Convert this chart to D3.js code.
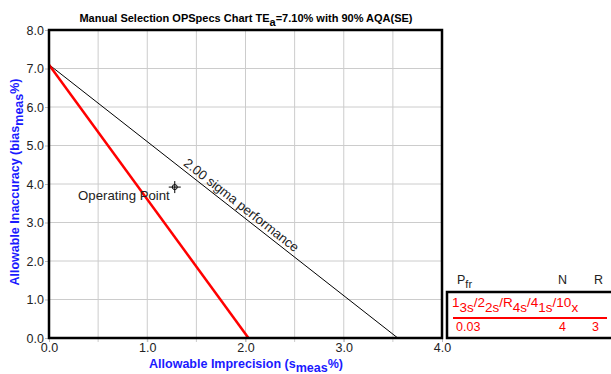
<!DOCTYPE html>
<html>
<head>
<meta charset="utf-8">
<script src="https://cdn.jsdelivr.net/npm/d3@7"></script>
<style>
  body { margin: 0; background: #fff; }
  text { font-family: "Liberation Sans", Arial, sans-serif; }
</style>
</head>
<body>
<script>
// chart values
var tea = 7.10;
var xTicks = [0, 1, 2, 3, 4];
var yTicks = [0, 1, 2, 3, 4, 5, 6, 7, 8];
var xGrid = [0.5, 1, 1.5, 2, 2.5, 3, 3.5];
var sigmaLine = [[0, 7.10], [3.55, 0]];     // 2.00 sigma performance
var qcLine = [[0, 7.10], [2.03, 0]];        // 1_3s/2_2s/R_4s/4_1s/10_x rule
var opPoint = [1.28, 3.92];
var ruleParts = [["1", "3s"], ["/2", "2s"], ["/R", "4s"], ["/4", "1s"], ["/10", "x"]];
var legendRow = { pfr: "0.03", n: "4", r: "3" };

var W = 611, H = 374;
var svg = d3.select("body").append("svg")
    .attr("width", W).attr("height", H);

var x = d3.scaleLinear().domain([0, 4]).range([49, 442]);
var y = d3.scaleLinear().domain([0, 8]).range([338, 30]);

// grid
svg.append("g").selectAll("line").data(xGrid).enter().append("line")
    .attr("x1", d => x(d)).attr("x2", d => x(d))
    .attr("y1", y(8)).attr("y2", y(0) + 4)
    .attr("stroke", "#cccccc").attr("stroke-width", 1);
svg.append("g").selectAll("line").data(yTicks.slice(1, -1)).enter().append("line")
    .attr("x1", x(0)).attr("x2", x(4))
    .attr("y1", d => y(d)).attr("y2", d => y(d))
    .attr("stroke", "#cccccc").attr("stroke-width", 1);

// axes
var xAxis = d3.axisBottom(x).tickValues(xTicks).tickFormat(d3.format(".1f")).tickSize(4);
var yAxis = d3.axisLeft(y).tickValues(yTicks).tickFormat(d3.format(".1f")).tickSize(4);
svg.append("g").attr("transform", "translate(0," + y(0) + ")").call(xAxis)
  .call(g => g.select(".domain").remove())
  .call(g => g.selectAll("line").attr("stroke", "#bbbbbb"))
  .call(g => g.selectAll("text").attr("font-size", 12.5).attr("fill", "#222").attr("y", 3).attr("dy", "0.9em"));
svg.append("g").attr("transform", "translate(" + x(0) + ",0)").call(yAxis)
  .call(g => g.select(".domain").remove())
  .call(g => g.selectAll("line").attr("stroke", "#bbbbbb"))
  .call(g => g.selectAll("text").attr("font-size", 12.5).attr("fill", "#222").attr("x", -5));

var line = d3.line().x(d => x(d[0])).y(d => y(d[1]));
svg.append("path").datum(sigmaLine).attr("d", line)
    .attr("stroke", "#000").attr("stroke-width", 1).attr("fill", "none");
svg.append("path").datum(qcLine).attr("d", line)
    .attr("stroke", "#ff0000").attr("stroke-width", 2.5).attr("fill", "none");

// frame
svg.append("rect").attr("x", x(0)).attr("y", y(8))
    .attr("width", x(4) - x(0)).attr("height", y(0) - y(8))
    .attr("fill", "none").attr("stroke", "#000").attr("stroke-width", 2.5);

// sigma label along line
var ang = Math.atan2(y(sigmaLine[1][1]) - y(sigmaLine[0][1]), x(sigmaLine[1][0]) - x(sigmaLine[0][0])) * 180 / Math.PI;
var ls = 1.34;
var lx = x(ls), ly = y(tea - 2 * ls);
svg.append("text")
    .attr("transform", "translate(" + (lx + 2) + "," + (ly - 3) + ") rotate(" + ang + ")")
    .attr("font-size", 13.2).attr("fill", "#222")
    .text("2.00 sigma performance");

// operating point
var ox = x(opPoint[0]), oy = y(opPoint[1]);
var op = svg.append("g").attr("stroke", "#000").attr("stroke-width", 1).attr("fill", "none");
op.append("circle").attr("cx", ox).attr("cy", oy).attr("r", 2.5);
op.append("line").attr("x1", ox - 6).attr("x2", ox + 6).attr("y1", oy).attr("y2", oy);
op.append("line").attr("x1", ox).attr("x2", ox).attr("y1", oy - 6).attr("y2", oy + 6);
svg.append("text").attr("x", ox - 5).attr("y", oy + 13)
    .attr("text-anchor", "end").attr("font-size", 13.2).attr("fill", "#222")
    .text("Operating Point");

// title
var title = svg.append("text").attr("x", 246).attr("y", 22)
    .attr("text-anchor", "middle").attr("font-size", 11).attr("font-weight", "bold");
title.append("tspan").text("Manual Selection OPSpecs Chart TE");
title.append("tspan").attr("dy", 4).attr("font-size", 11).text("a");
title.append("tspan").attr("dy", -4).text("=7.10% with 90% AQA(SE)");

// axis titles
var xt = svg.append("text").attr("x", 246).attr("y", 368)
    .attr("text-anchor", "middle").attr("font-size", 12.5).attr("font-weight", "bold").attr("fill", "#1a1aff");
xt.append("tspan").text("Allowable Imprecision (s");
xt.append("tspan").attr("dy", 4).text("meas");
xt.append("tspan").attr("dy", -4).text("%)");

var yt = svg.append("text").attr("transform", "translate(19,182) rotate(-90)")
    .attr("text-anchor", "middle").attr("font-size", 12.5).attr("font-weight", "bold").attr("fill", "#1a1aff");
yt.append("tspan").text("Allowable Inaccuracy (bias");
yt.append("tspan").attr("dy", 4).text("meas");
yt.append("tspan").attr("dy", -4).text("%)");

// legend
var lg = svg.append("g");
var hdr = lg.append("text").attr("x", 457).attr("y", 284).attr("font-size", 12.5).attr("fill", "#222");
hdr.append("tspan").text("P");
hdr.append("tspan").attr("dy", 4).attr("font-size", 11).text("fr");
lg.append("text").attr("x", 558).attr("y", 284).attr("font-size", 12.5).attr("fill", "#222").text("N");
lg.append("text").attr("x", 594).attr("y", 284).attr("font-size", 12.5).attr("fill", "#222").text("R");
lg.append("rect").attr("x", 447).attr("y", 292).attr("width", 170).attr("height", 46)
    .attr("fill", "none").attr("stroke", "#000").attr("stroke-width", 2.5);

var rule = lg.append("text").attr("x", 452).attr("y", 307).attr("font-size", 13.5).attr("fill", "#ff0000");
ruleParts.forEach(function(p, i) {
  rule.append("tspan").attr("dy", i === 0 ? 0 : -5).text(p[0]);
  rule.append("tspan").attr("dy", 5).text(p[1]);
});
lg.append("line").attr("x1", 453).attr("x2", 607).attr("y1", 318).attr("y2", 318)
    .attr("stroke", "#ff0000").attr("stroke-width", 2);
lg.append("text").attr("x", 456).attr("y", 331).attr("font-size", 12.5).attr("fill", "#ff0000").text(legendRow.pfr);
lg.append("text").attr("x", 559).attr("y", 331).attr("font-size", 12.5).attr("fill", "#ff0000").text(legendRow.n);
lg.append("text").attr("x", 592).attr("y", 331).attr("font-size", 12.5).attr("fill", "#ff0000").text(legendRow.r);
</script>
</body>
</html>
